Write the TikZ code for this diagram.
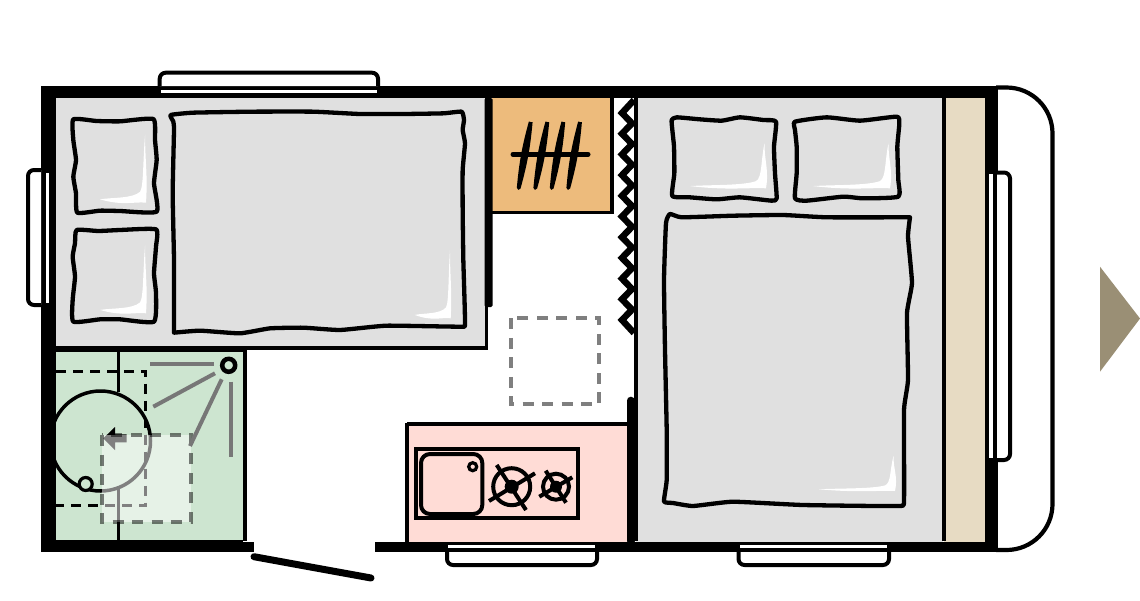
\documentclass[tikz,border=0pt]{standalone}
\definecolor{bedgray}{HTML}{E0E0E0}
\definecolor{wetgreen}{HTML}{CDE5D0}
\definecolor{kitchenpink}{HTML}{FFDCD6}
\definecolor{wardrobe}{HTML}{EDBB7C}
\definecolor{beige}{HTML}{E7DBC3}
\definecolor{showerline}{HTML}{777777}
\definecolor{heading}{HTML}{9A8F75}
\tikzset{
  wall/.style={fill=black},
  partition/.style={line width=3.8pt,black},
  linen/.style={draw=black,line width=4.3pt,fill=bedgray,line join=round},
  sash/.style={draw=black,fill=white,line width=4pt,rounded corners=6pt},
  slit/.style={fill=white},
  ghost/.style={fill=white,fill opacity=.5,draw=black,draw opacity=.5,line width=4pt,dash pattern=on 11pt off 8.5pt},
  spray/.style={showerline,line width=4pt},
  fitting/.style={draw=black,line width=4pt}
}
% corner x, corner y, length along x, length along y
\newcommand\shine[4]{%
  \begin{scope}[shift={(#1,#2)},xscale=#3/100,yscale=#4/100]
    \fill[white] (-2,-100) .. controls (-2,-60) and (4,-40) .. (0,0)
      .. controls (-25,-2) and (-50,5) .. (-100,-5)
      .. controls (-70,-8) and (-30,-6) .. (-13,-16)
      .. controls (-5,-24) and (-7,-60) .. (-2,-100) -- cycle;
  \end{scope}}
\begin{document}
\begin{tikzpicture}[x=1pt,y=-1pt]
\useasboundingbox (0,0) rectangle (1140,600);
\fill[white] (0,0) rectangle (1140,600);

% floor areas
\fill[bedgray] (55,97) rectangle (486,348);
\fill[bedgray] (636,97) rectangle (943,542);
\fill[beige] (944,97) rectangle (986,542);
\fill[wetgreen] (55,350) rectangle (244,540);
\fill[wardrobe] (492,97) rectangle (612,212);
\fill[kitchenpink] (407,424) rectangle (627,542);

% washroom
\draw[line width=3.2pt] (118.3,351) -- (118.3,392);
\draw[line width=3.2pt] (118.3,489) -- (118.3,540);
\draw[line width=3.5pt] (100.5,441) circle (50);
\draw[fill=wetgreen,line width=3.2pt] (85.7,484) circle (6.5);
\draw[line width=3.5pt,dash pattern=on 10pt off 7pt] (56,371.3) -- (145.7,371.3) -- (145.7,505.7) -- (56,505.7);
\fill[black] (103.3,438.3) -- (115,427) -- (115,434.3) -- (126.7,434.3) -- (126.7,442.3) -- (115,442.3) -- (115,450) -- cycle;
\draw[ghost] (102.3,435) rectangle (190.7,522.3);
\draw[spray] (150,364.3) -- (214,364.3);
\draw[spray] (153.3,406.7) -- (215,373.3);
\draw[spray] (190,446) -- (221.7,379.3);
\draw[spray] (230.7,381.7) -- (230.7,456.7);
\draw[line width=4.5pt] (228.7,365.3) circle (6.5);

% floor hatch square
\draw[ghost] (511,318.3) rectangle (599.3,404.3);

% cab
\draw[line width=4.2pt,rounded corners=46pt] (996,87.5) -- (1052.5,87.5) -- (1052.5,550) -- (996,550);

% walls
\fill[wall] (41,85.5) rectangle (998,98);
\fill[wall] (41,85.5) rectangle (56,552);
\fill[wall] (41,539.5) rectangle (243,552);
\fill[wall] (243,541.7) rectangle (254,552);
\fill[wall] (374.7,541.7) rectangle (998,552);
\fill[wall] (985,85.5) rectangle (997.5,552);

% partitions
\draw[partition] (55,348.3) -- (488,348.3);
\fill[wall] (55,347) rectangle (247,352);
\draw[partition] (245.2,350) -- (245.2,541);
\draw[line width=3.2pt] (486.5,98) -- (486.5,350);
\fill[wall,rounded corners=1.5pt] (484.5,98) -- (492.7,98) -- (492.7,307) -- (484.5,307) -- cycle;
\draw[partition] (612.3,97) -- (612.3,214);
\draw[partition] (491,212.5) -- (614,212.5);
\draw[line width=3.8pt] (635.7,98) -- (635.7,541);
\draw[line width=4.2pt] (943.7,97) -- (943.7,541);
\draw[line width=8pt,line cap=round] (630.5,400.7) -- (630.5,541);
\draw[partition] (407,424.2) -- (627,424.2);
\draw[partition] (407,422.5) -- (407,542);

% concertina curtain
\draw[line width=6.5pt,line join=miter] plot coordinates {(634,100) (622,113) (632,123.4) (622,133.7) (632,144) (622,154.4) (632,164.7) (622,175.1) (632,185.5) (622,195.8) (632,206.1) (622,216.5) (632,226.8) (622,237.2) (632,247.5) (622,257.9) (632,268.2) (622,278.6) (632,289) (622,299.3) (632,309.6) (622,320) (634,333)};

% windows
\draw[sash] (159.7,86) -- (159.7,72.7) -- (378,72.7) -- (378,86);
\fill[slit] (161,90) rectangle (376.7,93.3);
\draw[sash] (447,552) -- (447,565) -- (597,565) -- (597,552);
\fill[slit] (448,544.5) rectangle (595,548);
\draw[sash] (738.5,552) -- (738.5,565) -- (889,565) -- (889,552);
\fill[slit] (740,545) rectangle (887,548);
\draw[sash] (41,170) -- (28,170) -- (28,305) -- (41,305);
\fill[slit] (46,172.7) rectangle (49,302.7);
\draw[sash] (997,172.5) -- (1010,172.5) -- (1010,460) -- (997,460);
\fill[slit] (989.3,174) rectangle (993.3,458);

% door
\draw[line width=7pt,line cap=round] (254,556.7) -- (371,578);

% wardrobe hangers
\foreach \tx/\bx in {530.7/518.7,547.3/535.3,563.3/551.7,580/568.3}
  \filldraw[line width=3.8pt,line join=round] (\tx,122) to[bend left=5] (\bx,188) to[bend left=5] (\tx,122);
\draw[line width=5pt,line cap=round] (513,154.3) -- (588,154.3);

% hob and sink
\draw[fitting] (415.7,449) rectangle (577.6,518.3);
\draw[fitting,rounded corners=9pt] (421,454) rectangle (482.3,514);
\draw[line width=3.2pt] (472.7,466.7) circle (4);
\draw[fitting] (511.7,486.7) circle (18.5);
\fill (511.7,486.7) circle (7);
\draw[fitting] (496.7,465) -- (526,510);
\draw[fitting] (489,501) -- (535,473.3);
\draw[fitting] (556,486.7) circle (13);
\fill (556,486.7) circle (6);
\draw[fitting] (545.7,470.7) -- (566,502.7);
\draw[fitting] (539.3,496.7) -- (572.3,477.3);

% left bed
\begin{scope}[shift={(20,60)},scale=.33333]
\draw[linen] plot[smooth cycle,tension=.3] coordinates {(160,178) (230,183) (300,184) (400,177) (405,240) (410,300) (402,370) (410,455) (300,453) (240,452) (172,458) (168,400) (160,350) (168,300) (160,240)};
\draw[linen] plot[smooth cycle,tension=.3] coordinates {(170,510) (235,513) (300,510) (408,508) (408,560) (402,640) (408,700) (402,785) (300,778) (240,778) (160,785) (158,720) (165,650) (158,590) (165,550)};
\draw[linen] plot[smooth,tension=.25] coordinates {(462,818) (462,600) (458,400) (462,210) (460,185) (452,165) (520,158) (700,155) (880,155) (1020,162) (1150,162) (1270,160) (1325,155) (1332,180) (1328,210) (1335,250) (1328,330) (1328,450) (1330,600) (1335,790) (1320,800) (1100,797) (960,810) (850,803) (750,805) (660,820) (540,812) (462,818)} -- cycle;
\end{scope}
\shine{146}{202.7}{46}{68}
\shine{146}{313.3}{46}{68}
\shine{450.7}{318.3}{36}{68}

% right bed
\begin{scope}[shift={(640,80)},scale=.33333]
\draw[linen] plot[smooth cycle,tension=.3] coordinates {(95,120) (110,112) (180,118) (245,122) (300,112) (370,120) (408,125) (402,200) (405,280) (410,355) (395,362) (300,352) (230,358) (150,352) (97,348) (103,280) (102,200) (97,150)};
\draw[linen] plot[smooth cycle,tension=.3] coordinates {(465,125) (560,112) (660,122) (770,110) (778,130) (772,200) (775,300) (775,350) (670,355) (610,350) (500,362) (465,355) (470,280) (470,200) (465,150)};
\end{scope}
\draw[linen] plot[smooth,tension=.25] coordinates {(910,217.3) (908,236.7) (912,283) (907,313) (908,380) (904,410) (904,500) (898,506) (803,505) (733,501.7) (693,506) (673,503) (664,501.5) (666.7,480) (666.7,430) (665,350) (664,280) (666,223) (670,214) (681.7,217.3) (733,215.7) (783,215) (827,217.3) (910,217.3)} -- cycle;
\shine{766}{188.3}{76}{45}
\shine{890}{188.3}{77}{45}
\shine{895}{491}{76}{35}

% direction of travel
\fill[heading] (1100,266.7) -- (1140,318.5) -- (1100,371.7) -- cycle;
\end{tikzpicture}
\end{document}
